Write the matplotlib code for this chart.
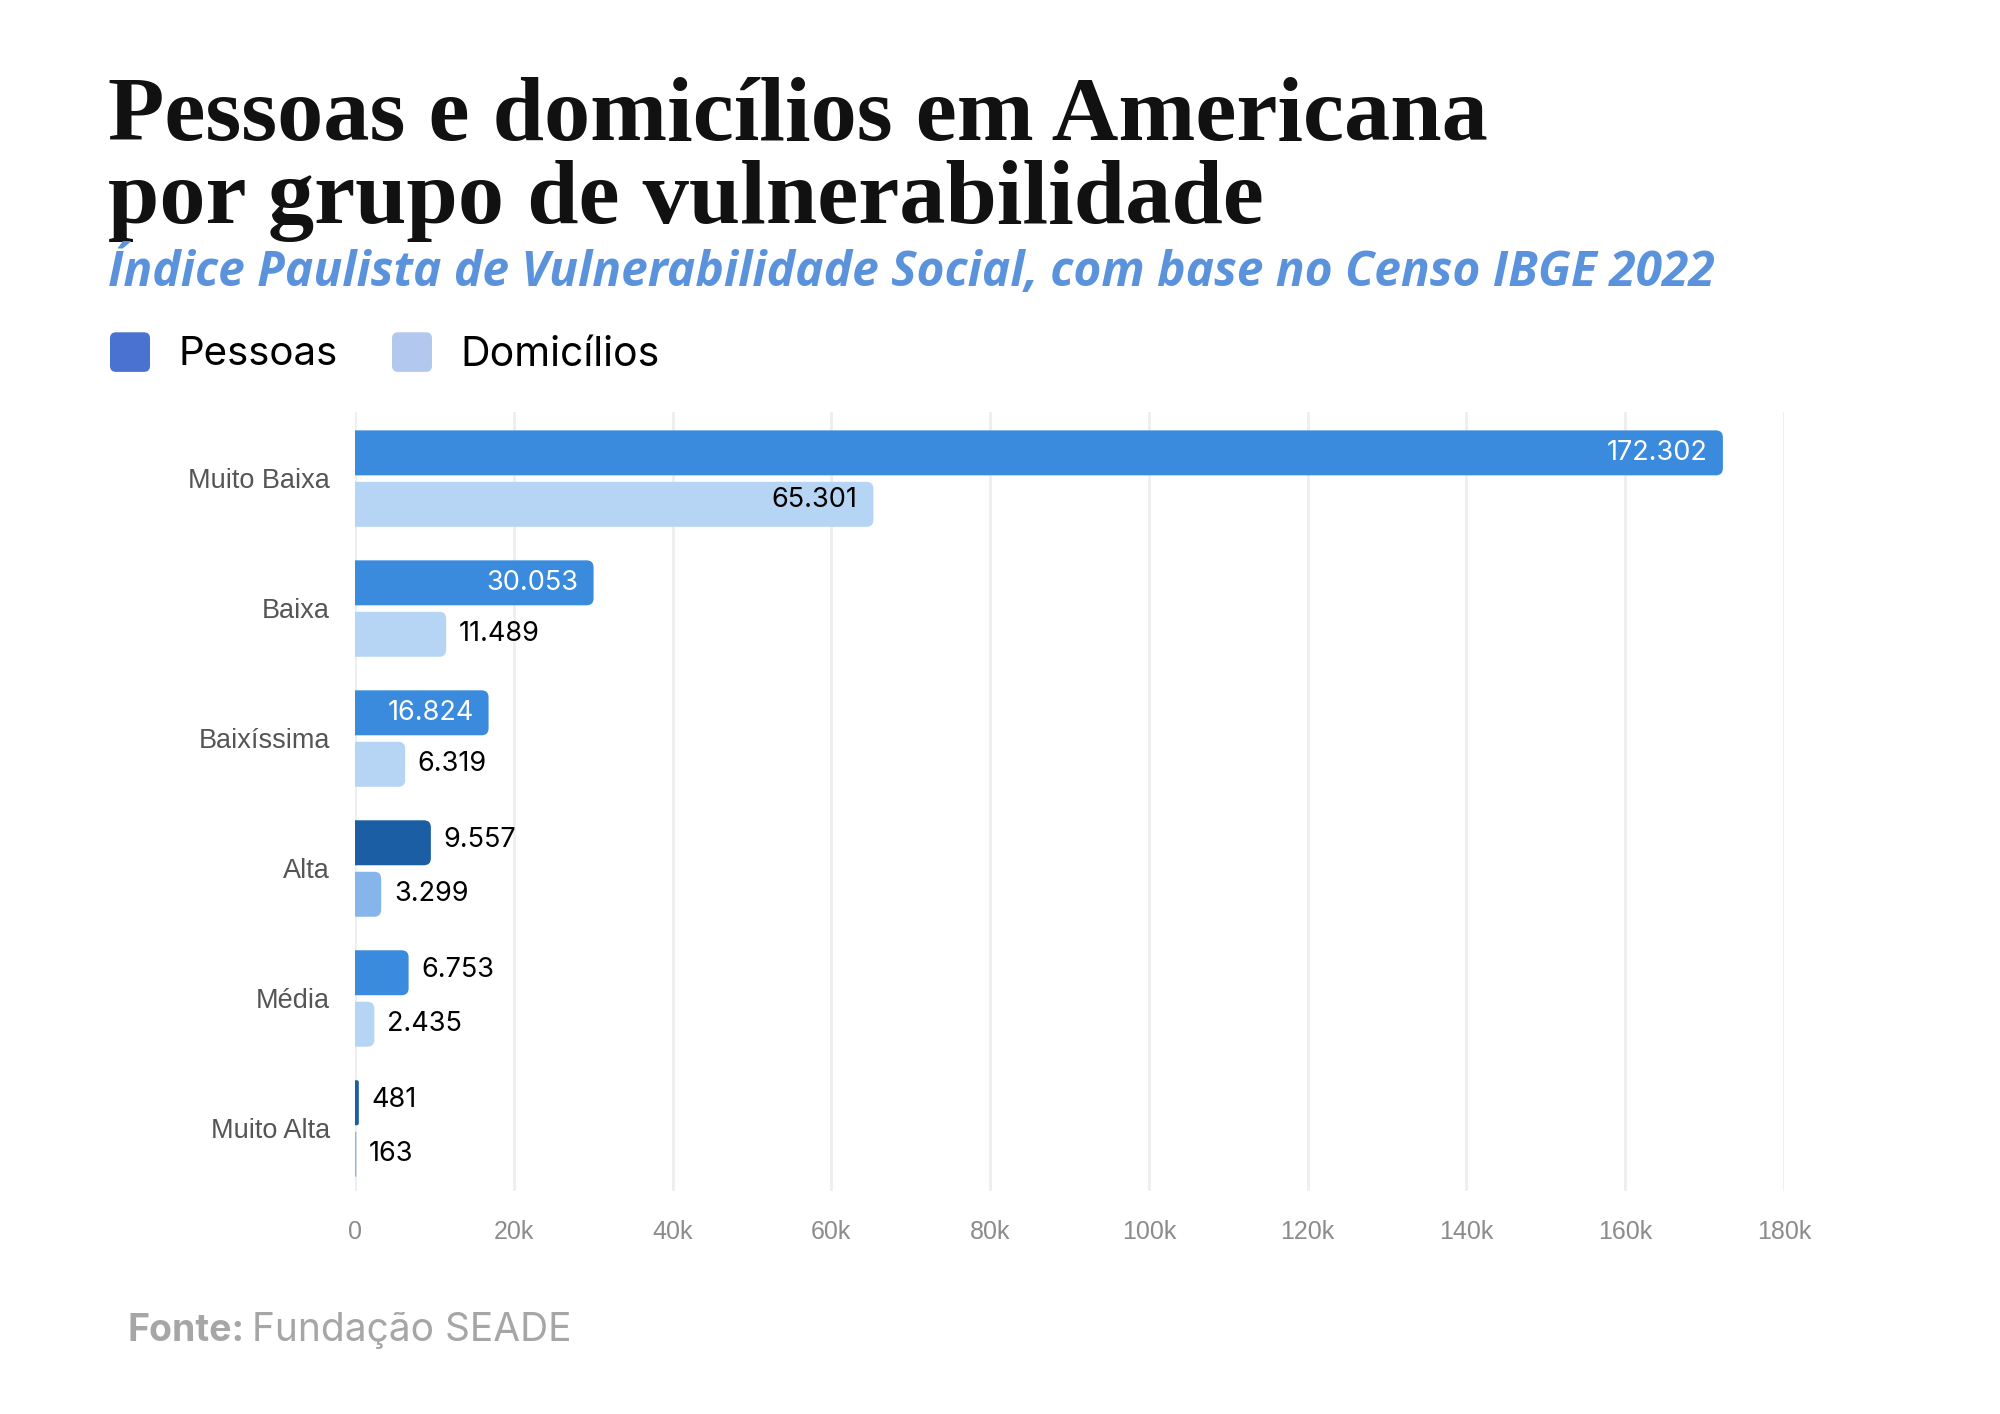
import numpy as np
import matplotlib.pyplot as plt
from matplotlib.patches import FancyBboxPatch

# Data
categories = ['Muito Baixa', 'Baixa', 'Baixíssima', 'Alta', 'Média', 'Muito Alta']
pessoas = [172302, 30053, 16824, 9557, 6753, 481]
domicilios = [65301, 11489, 6319, 3299, 2435, 163]
pessoas_labels = ['172.302', '30.053', '16.824', '9.557', '6.753', '481']
domicilios_labels = ['65.301', '11.489', '6.319', '3.299', '2.435', '163']
xticks = [0, 20000, 40000, 60000, 80000, 100000, 120000, 140000, 160000, 180000]
xtick_labels = ['0', '20k', '40k', '60k', '80k', '100k', '120k', '140k', '160k', '180k']

# colours per bar (Alta / Muito Alta rows are drawn darker in the original)
pessoas_colors = ['#3a8bdd', '#3a8bdd', '#3a8bdd', '#1b5ea4', '#3a8bdd', '#1b5ea4']
domicilios_colors = ['#b6d4f3', '#b6d4f3', '#b6d4f3', '#85b5ea', '#b6d4f3', '#85b5ea']

fig = plt.figure(figsize=(20, 14.14), dpi=100)
fig.patch.set_facecolor('white')

ax_pos = [0.1775, 0.158, 0.892 - 0.1775, 0.7086 - 0.158]
ax = fig.add_axes(ax_pos)
ax.set_xlim(0, 180000)
ax.set_ylim(5.48, -0.51)

y = np.arange(len(categories))
h = 0.346
b1 = ax.barh(y - 0.196, pessoas, height=h, color=pessoas_colors, zorder=3)
b2 = ax.barh(y + 0.2, domicilios, height=h, color=domicilios_colors, zorder=3)

# swap plain bars for ones with rounded right corners
xpp = 180000 / (ax_pos[2] * 2000)
ypp = 5.99 / (ax_pos[3] * 1414)
r = 7 * xpp
for p in list(b1) + list(b2):
    x0, y0, w, hh = p.get_x(), p.get_y(), p.get_width(), p.get_height()
    p.set_visible(False)
    rr = min(r, w / 2)
    fb = FancyBboxPatch((x0 - r, y0), w + r, hh,
                        boxstyle=f"round,pad=0,rounding_size={max(rr, 1)}",
                        mutation_aspect=ypp / xpp, facecolor=p.get_facecolor(),
                        edgecolor='none', zorder=3)
    ax.add_patch(fb)

# value labels: inside for long bars, outside otherwise
for i in range(len(categories)):
    if pessoas[i] > 15000:
        ax.text(pessoas[i] - 1900, y[i] - 0.196, pessoas_labels[i], ha='right', va='center',
                color='white', fontsize=19.5, family='Inter', zorder=4)
    else:
        ax.text(pessoas[i] + 1600, y[i] - 0.22, pessoas_labels[i], ha='left', va='center',
                color='black', fontsize=19.5, family='Inter', zorder=4)
    if domicilios[i] > 30000:
        ax.text(domicilios[i] - 2000, y[i] + 0.17, domicilios_labels[i], ha='right', va='center',
                color='black', fontsize=19.5, family='Inter', zorder=4)
    else:
        ax.text(domicilios[i] + 1600, y[i] + 0.2, domicilios_labels[i], ha='left', va='center',
                color='black', fontsize=19.5, family='Inter', zorder=4)

ax.set_xticks(xticks)
ax.set_xticklabels(xtick_labels, fontsize=18, color='#8c8c8c', family='Liberation Sans')
ax.set_yticks(y)
ax.set_yticklabels(categories, fontsize=19.5, color='#555555', family='Liberation Sans')
ax.tick_params(axis='both', length=0)
ax.tick_params(axis='x', pad=21)
ax.tick_params(axis='y', pad=18)
ax.grid(axis='x', color='#eeeeee', linewidth=2, zorder=0)
for s in ax.spines.values():
    s.set_visible(False)

# Title and subtitle
fig.text(0.054, 0.901, 'Pessoas e domicílios em Americana',
         fontsize=66.5, fontweight='bold', family='Liberation Serif', color='#111111',
         va='baseline', ha='left')
fig.text(0.054, 0.842, 'por grupo de vulnerabilidade',
         fontsize=66.5, fontweight='bold', family='Liberation Serif', color='#111111',
         va='baseline', ha='left')
fig.text(0.054, 0.807, 'Índice Paulista de Vulnerabilidade Social, com base no Censo IBGE 2022',
         fontsize=34.5, fontweight='bold', style='italic', family='Open Sans', color='#5b92dc',
         va='center', ha='left')

# Legend (rounded swatches)
for sx, col in [(0.055, '#4a72d0'), (0.196, '#b3c8ee')]:
    fig.patches.append(FancyBboxPatch((sx, 0.737), 0.020, 0.028, transform=fig.transFigure,
                                      boxstyle="round,pad=0,rounding_size=0.003",
                                      mutation_aspect=2000 / 1414,
                                      facecolor=col, edgecolor='none'))
fig.text(0.0895, 0.749, 'Pessoas', fontsize=29, family='Inter', va='center', color='black')
fig.text(0.23, 0.749, 'Domicílios', fontsize=29.5, family='Inter', va='center', color='black')

# Source
fonte = fig.text(0.064, 0.059, 'Fonte:', fontsize=27, fontweight='bold', family='Inter',
                 color='#a6a6a6', va='center')
ax.annotate('Fundação SEADE', xy=(1, 0.5), xycoords=fonte, xytext=(5, 0),
            textcoords='offset points', fontsize=28, family='Inter',
            color='#a6a6a6', va='center', ha='left', annotation_clip=False)

fig.savefig('out.png', dpi=100, facecolor='white')
